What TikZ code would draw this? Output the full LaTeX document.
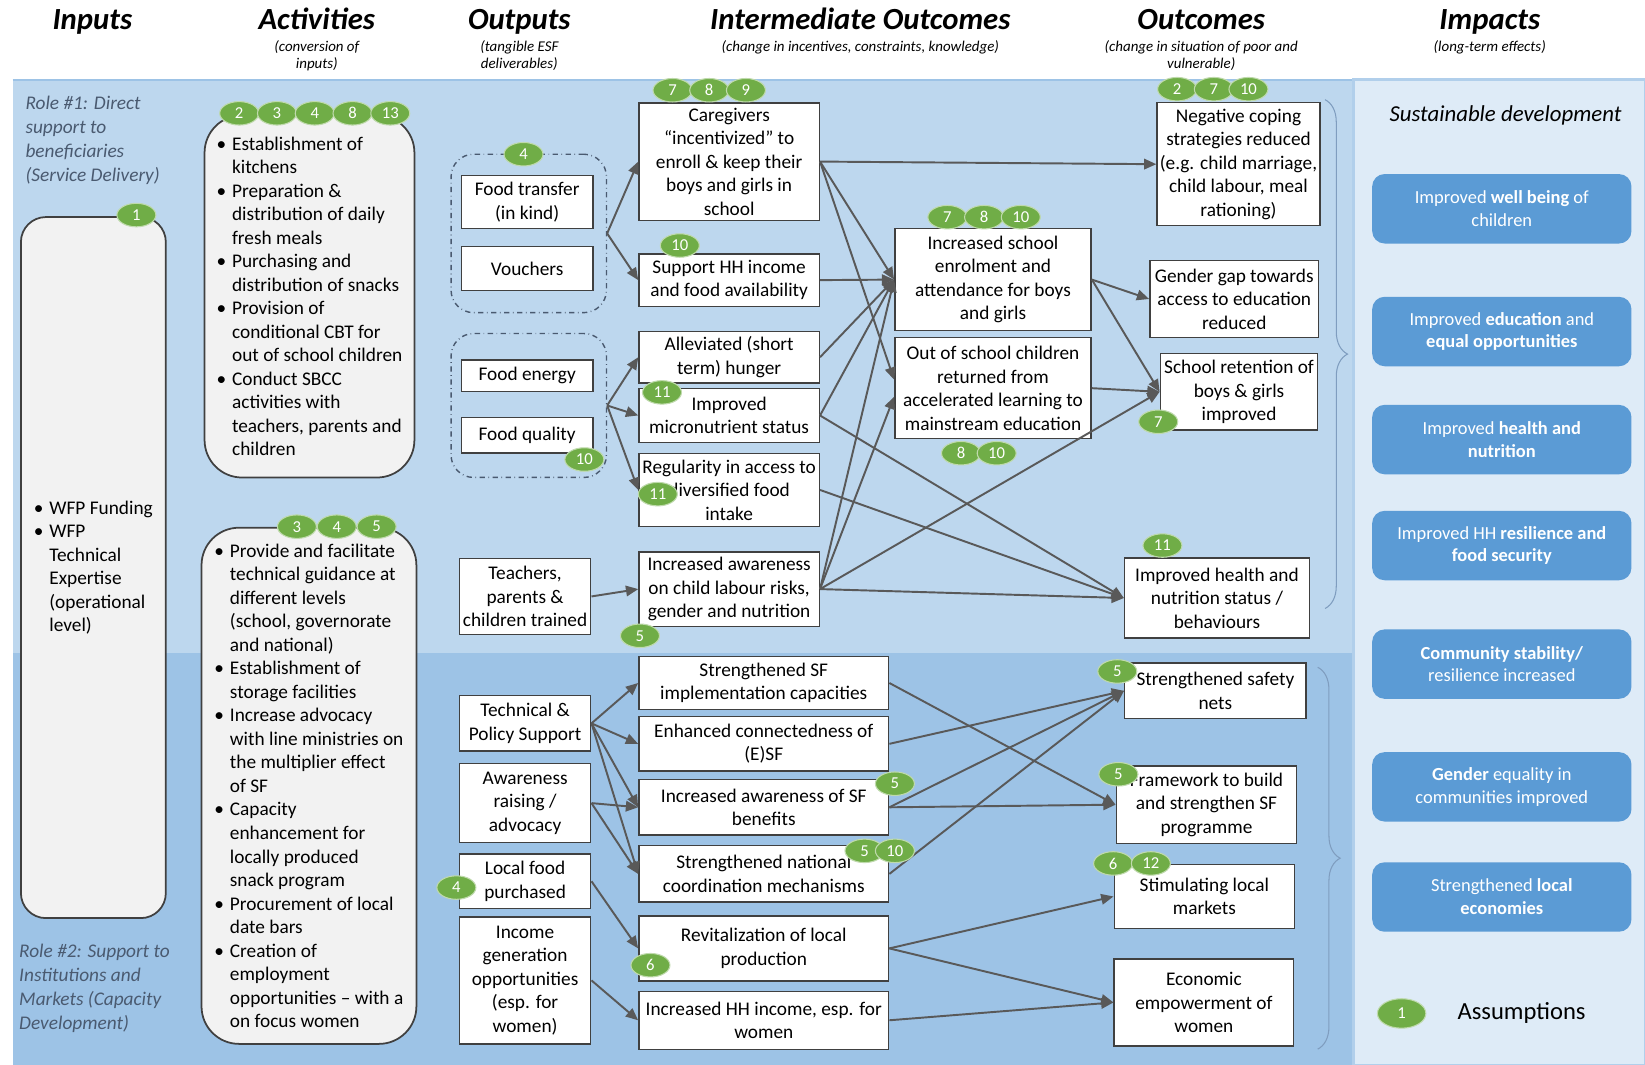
\documentclass[tikz,border=0pt]{standalone}
\usepackage{fontspec}
\setmainfont{Carlito}
\usetikzlibrary{positioning, shapes.geometric, arrows.meta, decorations.pathreplacing}

\definecolor{roleone}{HTML}{BDD7EE}
\definecolor{roletwo}{HTML}{9DC3E6}
\definecolor{impfill}{HTML}{DEEBF7}
\definecolor{impbox}{HTML}{5B9BD5}
\definecolor{bubgreen}{HTML}{70AD47}
\definecolor{boxline}{HTML}{404040}
\definecolor{edgegray}{HTML}{595959}
\definecolor{actfill}{HTML}{F2F2F2}
\definecolor{roletext}{HTML}{4A5A70}
\definecolor{bracegray}{HTML}{7F9DBF}

\newcommand{\boxfont}{\fontsize{11}{13.4}\selectfont}
\newcommand{\bitem}{\makebox[0.8em][l]{\textbullet}}
\newcommand{\bgap}{\hspace*{0.8em}}

\begin{document}
\begin{tikzpicture}[x=0.021cm, y=-0.021cm,
    head/.style={font=\fontsize{17.5}{19}\selectfont\bfseries\itshape, text height=4.4mm, text depth=1.3mm, inner sep=0pt},
    sub/.style={font=\fontsize{8.5}{10}\selectfont\itshape, align=center, inner sep=1pt},
    role/.style={font=\fontsize{11}{13.7}\selectfont\itshape, text=roletext, align=left, inner sep=0pt},
    box/.style={draw=boxline, fill=white, line width=0.8pt, align=center, inner sep=1pt, font=\boxfont},
    colout/.style={box, minimum width=2.63cm},
    colmid/.style={box, minimum width=3.61cm},
    colwide/.style={box, minimum width=5cm},
    actbox/.style={draw=boxline, fill=actfill, line width=1pt, rounded corners=0.75cm, align=left, inner sep=2pt, font=\boxfont},
    grp/.style={draw=roletext, dash dot, line width=0.8pt, rounded corners=0.45cm, minimum width=3.11cm},
    impact/.style={fill=impbox, rounded corners=0.25cm, text=white, align=center, minimum width=5.19cm, minimum height=1.39cm, font=\fontsize{10.5}{13}\selectfont},
    bub/.style={ellipse, fill=bubgreen, draw=white!55!bubgreen, line width=0.6pt, text=white, inner sep=0pt, minimum width=0.78cm, minimum height=0.47cm, font=\fontsize{9.5}{9.5}\selectfont},
    link/.style={-{Triangle[length=7pt,width=6pt]}, draw=edgegray, line width=1.1pt},
    brace/.style={decorate, decoration={brace, amplitude=0.45cm}, draw=bracegray, line width=0.6pt}]

    \useasboundingbox (0,0) rectangle (1568,1015);

    % background bands for the two roles and the impacts panel
    \fill[roleone] (12,76) rectangle (1290,622);
    \fill[roletwo] (12,622) rectangle (1290,1015);
    \draw[roletwo, line width=1pt] (12,76) -- (1290,76);
    \filldraw[fill=impfill, draw=roletwo!80!white, line width=1.5pt] (1290,76) rectangle (1568,1015);

    % column headings (fixed text height so they share one baseline)
    \node[head] (hIn)  at (88,21)   {Inputs};
    \node[head] (hAc)  at (302,21)  {Activities};
    \node[head] (hOu)  at (495,21)  {Outputs};
    \node[head] (hIm)  at (820,21)  {Intermediate Outcomes};
    \node[head] (hOc)  at (1145,21) {Outcomes};
    \node[head] (hIp)  at (1420,21) {Impacts};
    \node[sub, below=1pt of hAc] (sAc) {(conversion of\\inputs)};
    \node[sub, below=1pt of hOu] (sOu) {(tangible ESF\\deliverables)};
    \node[sub, below=1pt of hIm] (sIm) {(change in incentives, constraints, knowledge)};
    \node[sub, below=1pt of hOc] (sOc) {(change in situation of poor and\\vulnerable)};
    \node[sub, below=1pt of hIp] (sIp) {(long-term effects)};

    % role labels
    \node[role, anchor=west] (role1) at (24,134)  {Role \#1: Direct\\support to\\beneficiaries\\(Service Delivery)};
    \node[role, anchor=west] (role2) at (18,942)  {Role \#2: Support to\\Institutions and\\Markets (Capacity\\Development)};

    % inputs and activities
    \node[actbox, rounded corners=0.5cm, minimum width=2.9cm, minimum height=14.03cm] (inp) at (89,541)
        {\bitem WFP Funding\\ \bitem WFP\\ \bgap Technical\\ \bgap Expertise\\ \bgap (operational\\ \bgap level)};
    \node[actbox, minimum width=4.2cm, minimum height=7.25cm] (act1) at (295,282.5)
        {\bitem Establishment of\\ \bgap kitchens\\ \bitem Preparation \&\\ \bgap distribution of daily\\ \bgap fresh meals\\
         \bitem Purchasing and\\ \bgap distribution of snacks\\ \bitem Provision of\\ \bgap conditional CBT for\\
         \bgap out of school children\\ \bitem Conduct SBCC\\ \bgap activities with\\ \bgap teachers, parents and\\ \bgap children};
    \node[actbox, minimum width=4.3cm, minimum height=10.33cm] (act2) at (294.5,749)
        {\bitem Provide and facilitate\\ \bgap technical guidance at\\ \bgap different levels\\ \bgap (school, governorate\\
         \bgap and national)\\ \bitem Establishment of\\ \bgap storage facilities\\ \bitem Increase advocacy\\
         \bgap with line ministries on\\ \bgap the multiplier effect\\ \bgap of SF\\ \bitem Capacity\\ \bgap enhancement for\\
         \bgap locally produced\\ \bgap snack program\\ \bitem Procurement of local\\ \bgap date bars\\ \bitem Creation of\\
         \bgap employment\\ \bgap opportunities -- with a\\ \bgap on focus women};

    % outputs
    \node[grp, minimum height=3.17cm] (g1) at (504,222.5) {};
    \node[grp, minimum height=2.88cm] (g2) at (504,386.5) {};
    \node[colout, minimum height=1.07cm] (ft)  at (502.5,192.5) {Food transfer\\(in kind)};
    \node[colout, minimum height=0.88cm] (vo)  at (502.5,256)   {Vouchers};
    \node[colout, minimum height=0.63cm] (fe)  at (502.5,358)   {Food energy};
    \node[colout, minimum height=0.71cm] (fq)  at (502.5,415)   {Food quality};
    \node[colout, minimum height=1.53cm] (tr)  at (500.5,568.5) {Teachers,\\parents \&\\children trained};
    \node[colout, minimum height=1.11cm] (tps) at (500.5,689.5) {Technical \&\\Policy Support};
    \node[colout, minimum height=1.58cm] (arz) at (500.5,765.5) {Awareness\\raising /\\advocacy};
    \node[colout, minimum height=1.09cm] (lfp) at (500.5,840)   {Local food\\purchased};
    \node[colout, minimum height=2.54cm] (igo) at (500.5,934.5) {Income\\generation\\opportunities\\(esp. for\\women)};

    % intermediate outcomes
    \node[colmid, minimum height=2.35cm] (cg)  at (695,154)   {Caregivers\\“incentivized” to\\enroll \& keep their\\boys and girls in\\school};
    \node[colmid, minimum height=1.05cm] (hh)  at (695,267)   {Support HH income\\and food availability};
    \node[colmid, minimum height=1.03cm] (hun) at (695,340.5) {Alleviated (short\\term) hunger};
    \node[colmid, minimum height=1.09cm] (mic) at (695,396)   {Improved\\micronutrient status};
    \node[colmid, minimum height=1.47cm] (reg) at (695,467)   {Regularity in access to\\diversified food\\intake};
    \node[colmid, minimum height=1.49cm] (awr) at (695,561.5) {Increased awareness\\on child labour risks,\\gender and nutrition};
    \node[colwide, minimum height=1.05cm] (sfi) at (728,651)   {Strengthened SF\\implementation capacities};
    \node[colwide, minimum height=1.09cm] (con) at (728,709)   {Enhanced connectedness of\\(E)SF};
    \node[colwide, minimum height=1.11cm] (asf) at (728,769.5) {Increased awareness of SF\\benefits};
    \node[colwide, minimum height=1.13cm] (nat) at (728,833)   {Strengthened national\\coordination mechanisms};
    \node[colwide, minimum height=1.30cm] (rev) at (728,904)   {Revitalization of local\\production};
    \node[colwide, minimum height=1.16cm] (hhi) at (728,972.5) {Increased HH income, esp. for\\women};
    \node[box, minimum width=3.93cm, minimum height=2.04cm] (enr) at (946.5,266.5) {Increased school\\enrolment and\\attendance for boys\\and girls};
    \node[box, minimum width=3.93cm, minimum height=2.02cm] (oos) at (946.5,370)   {Out of school children\\returned from\\accelerated learning to\\mainstream education};

    % outcomes
    \node[box, minimum width=3.26cm, minimum height=2.46cm] (neg) at (1180.5,156.5) {Negative coping\\strategies reduced\\(e.g. child marriage,\\child labour, meal\\rationing)};
    \node[box, minimum width=3.38cm, minimum height=1.55cm] (gap) at (1176.5,285)   {Gender gap towards\\access to education\\reduced};
    \node[box, minimum width=3.15cm, minimum height=1.53cm] (ret) at (1181,373.5)   {School retention of\\boys \& girls\\improved};
    \node[box, minimum width=3.70cm, minimum height=1.60cm] (hea) at (1160,570)     {Improved health and\\nutrition status /\\behaviours};
    \node[box, minimum width=3.63cm, minimum height=1.11cm] (saf) at (1158.5,658.5) {Strengthened safety\\nets};
    \node[box, minimum width=3.61cm, minimum height=1.55cm] (frm) at (1150,767)     {Framework to build\\and strengthen SF\\programme};
    \node[box, minimum width=3.61cm, minimum height=1.28cm] (mkt) at (1148,854.5)   {Stimulating local\\markets};
    \node[box, minimum width=3.59cm, minimum height=1.74cm] (emp) at (1147.5,955.5) {Economic\\empowerment of\\women};

    % braces grouping the outcomes
    \draw[brace] (1263,95) -- (1263,580);
    \draw[brace] (1256,636) -- (1256,1000);

    % impacts
    \node[font=\fontsize{13}{15}\selectfont\itshape] (sus) at (1435,110) {Sustainable development};
    \node[impact] (ip1) at (1431.5,199) {Improved \textbf{well being} of\\children};
    \node[impact] (ip2) at (1431.5,316) {Improved \textbf{education} and\\\textbf{equal opportunities}};
    \node[impact] (ip3) at (1431.5,419) {Improved \textbf{health and}\\\textbf{nutrition}};
    \node[impact] (ip4) at (1431.5,520) {Improved HH \textbf{resilience and}\\\textbf{food security}};
    \node[impact] (ip5) at (1431.5,633) {\textbf{Community stability/}\\resilience increased};
    \node[impact] (ip6) at (1431.5,750) {\textbf{Gender} equality in\\communities improved};
    \node[impact] (ip7) at (1431.5,855) {Strengthened \textbf{local}\\\textbf{economies}};

    % connectors, role 1
    \foreach \a/\b in {g1/cg, g1/hh, g2/hun, g2/mic, g2/reg, tr/awr, cg/neg, cg/enr, hh/enr, hun/enr, mic/enr,
                       mic/hea, reg/hea, awr/enr, awr/ret, awr/hea, enr/gap, enr/ret, oos/ret}
        \draw[link] (\a.east) -- (\b.west);
    \draw[link] (cg.east)  -- ([yshift=0.17cm]oos.west);
    \draw[link] (awr.east) -- ([yshift=-0.17cm]oos.west);

    % connectors, role 2
    \foreach \a/\b in {tps/sfi, tps/con, tps/asf, tps/nat, arz/asf, arz/nat, lfp/rev, igo/hhi,
                       sfi/frm, con/saf, asf/saf, asf/frm, nat/saf, rev/mkt, rev/emp, hhi/emp}
        \draw[link] (\a.east) -- (\b.west);

    % assumption markers
    \foreach \t/\px/\py [count=\k] in {1/130/205, 2/228/108, 3/264/108, 4/300/108, 8/336/108, 13/372/108,
            3/283/502, 4/321/502, 5/359/502, 4/499/147, 10/557/438, 4/435/846,
            7/641/86, 8/676/86, 9/711/86, 10/648/234, 11/631/374, 11/627/471, 5/610/606,
            5/853/747, 5/824/811, 10/853/811, 6/620/920,
            7/903/207, 8/938/207, 10/973/207, 8/916/432, 10/950/432,
            2/1122/85, 7/1157/85, 10/1190/85, 7/1104/402, 11/1108/520,
            5/1065/640, 5/1066/738, 6/1061/823, 12/1097/823}
        \node[bub] (as\k) at (\px,\py) {\t};

    % legend
    \node[bub, minimum width=0.97cm, minimum height=0.59cm] (leg) at (1336,966) {1};
    \node[font=\fontsize{14}{16}\selectfont, right=0.5cm of leg] (legtxt) {Assumptions};

\end{tikzpicture}
\end{document}
